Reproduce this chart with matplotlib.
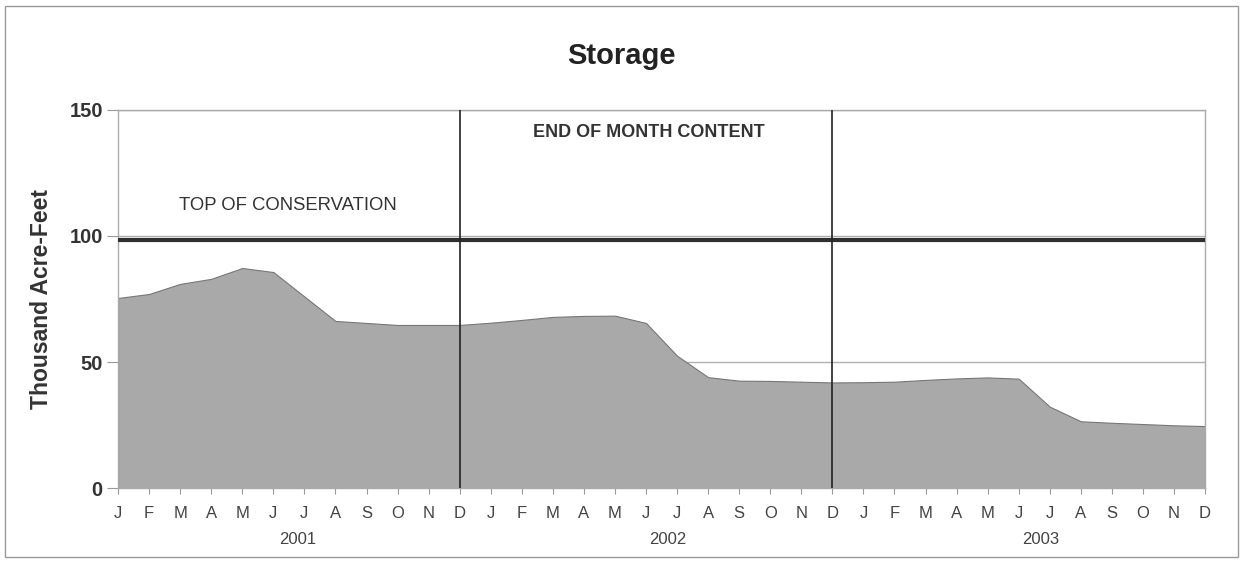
import numpy as np
import matplotlib
matplotlib.use("Agg")
import matplotlib.pyplot as plt
from matplotlib.patches import Rectangle

plt.rcParams['font.family'] = ['Liberation Sans', 'DejaVu Sans']

# end of month storage, thousand acre-feet, Jan 2001 - Dec 2003
months = ["J", "F", "M", "A", "M", "J", "J", "A", "S", "O", "N", "D"] * 3
years = ["2001", "2002", "2003"]
storage = [75.4, 77.0, 81.0, 83.0, 87.3, 85.7, 76.0, 66.3, 65.5, 64.7, 64.7, 64.7,
           65.6, 66.7, 67.9, 68.3, 68.4, 65.5, 52.5, 44.0, 42.6, 42.5, 42.2, 41.9,
           42.0, 42.2, 42.9, 43.5, 43.9, 43.4, 32.3, 26.5, 25.9, 25.4, 24.9, 24.6]
top_of_conservation = 98.4

x = np.arange(len(storage))

fig = plt.figure(figsize=(12.4, 5.61), dpi=100)
ax = fig.add_axes([0.0952, 0.130, 0.8766, 0.674])

# light gridlines sit behind the filled area
for yv in [50, 100, 150]:
    ax.axhline(yv, color='#b0b0b0', lw=1.0, zorder=0)

ax.fill_between(x, storage, 0, color='#a9a9a9', edgecolor='#777777', lw=0.8, zorder=2)

# top of conservation pool
ax.axhline(top_of_conservation, color='#303030', lw=3.0, zorder=3)

# year separators at December
for xv in [11, 23]:
    ax.axvline(xv, color='#222222', lw=1.2, zorder=4)

ax.set_xlim(0, len(storage) - 1)
ax.set_ylim(0, 150)
ax.set_yticks([0, 50, 100, 150])
ax.set_yticklabels(["0", "50", "100", "150"], fontsize=14.5, fontweight='bold', color='#333333')
ax.set_xticks(x)
ax.set_xticklabels(months, fontsize=12, color='#444444')
ax.tick_params(axis='x', length=4, color='#999999', pad=9)
ax.tick_params(axis='y', length=8, color='#999999', pad=3)

for s in ax.spines.values():
    s.set_color('#aaaaaa')
    s.set_linewidth(1.0)

for xv, yr in zip([5.8, 17.7, 29.7], years):
    ax.text(xv, -0.115, yr, transform=ax.get_xaxis_transform(), ha='center', va='top',
            fontsize=12, color='#444444')

ax.text(5.46, 111.9, "TOP OF CONSERVATION", ha='center', va='center', fontsize=13.3, color='#333333')
ax.text(17.08, 141, "END OF MONTH CONTENT", ha='center', va='center', fontsize=13,
        fontweight='bold', color='#333333')

ax.set_ylabel("Thousand Acre-Feet", fontsize=16.5, fontweight='bold', color='#333333', labelpad=12)
fig.text(0.501, 0.900, "Storage", ha='center', va='center', fontsize=21, fontweight='bold',
         color='#222222')

# outer frame
fig.patches.append(Rectangle((0.004, 0.008), 0.994, 0.982, transform=fig.transFigure,
                             fill=False, edgecolor='#999999', lw=1.0))

fig.savefig("out.png", dpi=100)
